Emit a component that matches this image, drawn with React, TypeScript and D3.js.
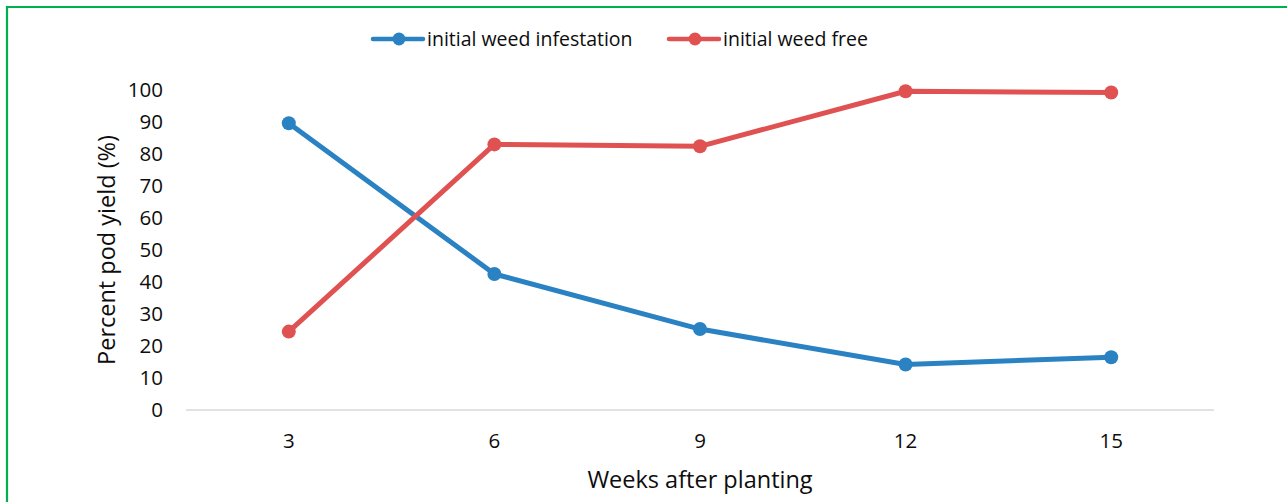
import * as d3 from "d3";

// chart data
const weeks = ["3", "6", "9", "12", "15"];
const weedInfestation = [89.6, 42.5, 25.3, 14.2, 16.5];
const weedFree = [24.5, 83.0, 82.4, 99.6, 99.2];
const yTicks = [0, 10, 20, 30, 40, 50, 60, 70, 80, 90, 100];

const series = [
  { name: "initial weed infestation", values: weedInfestation, color: "#2a82c3" },
  { name: "initial weed free", values: weedFree, color: "#e05252" },
];

const W = 1287;
const H = 502;
const font = "'Open Sans', 'Liberation Sans', sans-serif";
const ink = "#0d0d0d";

export default function App() {
  // plot area
  const left = 186;
  const right = 1214;
  const top = 90;
  const bottom = 410;

  const x = d3.scaleBand<string>().domain(weeks).range([left, right]);
  const y = d3.scaleLinear().domain([0, 100]).range([bottom, top]);
  const cx = (w: string) => (x(w) ?? 0) + x.bandwidth() / 2;

  const line = d3
    .line<number>()
    .x((_, i) => cx(weeks[i]))
    .y((d) => y(d));

  // legend positions
  const legendItems = [
    { ...series[0], x0: 373 },
    { ...series[1], x0: 669 },
  ];

  return (
    <div style={{ position: "absolute", left: 0, top: 0 }}>
      <svg width={W} height={H} style={{ display: "block", background: "#fff" }} fontFamily={font}>
        {/* green frame (only top and left visible) */}
        <line x1={6} x2={W} y1={7} y2={7} stroke="#00b04f" strokeWidth={2.2} />
        <line x1={7} x2={7} y1={6} y2={H} stroke="#00b04f" strokeWidth={2.2} />

        {/* legend */}
        {legendItems.map((s) => (
          <g key={s.name}>
            <line x1={s.x0} x2={s.x0 + 50} y1={39} y2={39} stroke={s.color} strokeWidth={4.5} strokeLinecap="round" />
            <circle cx={s.x0 + 26} cy={39} r={6.5} fill={s.color} />
            <text x={s.x0 + 54} y={46} fontSize={19.5} fill={ink}>
              {s.name}
            </text>
          </g>
        ))}

        {/* y tick labels */}
        {yTicks.map((t) => (
          <text key={t} x={163} y={y(t) + 7} textAnchor="end" fontSize={20.5} fill={ink}>
            {t}
          </text>
        ))}

        {/* x axis */}
        <line x1={left} x2={right} y1={bottom} y2={bottom} stroke="#d9d9d9" strokeWidth={1.5} />
        {weeks.map((w) => (
          <text key={w} x={cx(w)} y={448} textAnchor="middle" fontSize={20.5} fill={ink}>
            {w}
          </text>
        ))}

        {/* axis titles */}
        <text x={(left + right) / 2} y={488} textAnchor="middle" fontSize={23.5} fill={ink}>
          Weeks after planting
        </text>
        <text
          transform={`translate(115, ${(top + bottom) / 2}) rotate(-90)`}
          textAnchor="middle"
          fontSize={23.5}
          fill={ink}
        >
          Percent pod yield (%)
        </text>

        {/* series */}
        {series.map((s) => (
          <g key={s.name}>
            <path d={line(s.values) ?? ""} fill="none" stroke={s.color} strokeWidth={5} strokeLinejoin="round" />
            {s.values.map((v, i) => (
              <circle key={i} cx={cx(weeks[i])} cy={y(v)} r={7} fill={s.color} />
            ))}
          </g>
        ))}
      </svg>
    </div>
  );
}
